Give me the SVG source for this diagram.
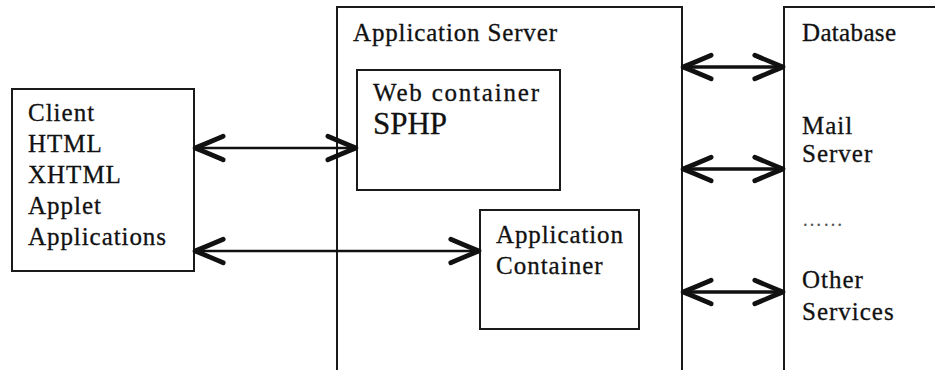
<svg xmlns="http://www.w3.org/2000/svg" width="935" height="370" viewBox="0 0 935 370">
  <style>
    .box { fill: #ffffff; stroke: #1a1a1a; stroke-width: 2; }
    .lbl { font-family: "Liberation Serif", "Times New Roman", serif; font-size: 25px; fill: #111; stroke: #111; stroke-width: 0.3; letter-spacing: 1px; }
    .big { font-size: 31px; letter-spacing: 0; }
    .dots { font-size: 20px; fill: #555; stroke: none; }
    .link { stroke: #111; fill: none; }
    .thin { stroke-width: 2.5; }
    .thick { stroke-width: 3.5; }
  </style>
  <defs>
    <marker id="head" markerUnits="userSpaceOnUse" markerWidth="40" markerHeight="40" viewBox="-30 -15 34 30" refX="0" refY="0" orient="auto-start-reverse" overflow="visible">
      <path d="M -24 -10 Q -10 -4 0 0 Q -10 4 -24 10" fill="none" stroke="#111" stroke-width="4" stroke-linecap="round" stroke-linejoin="round"/>
    </marker>
  </defs>
  <rect width="935" height="370" fill="#ffffff"/>

  <!-- client tier -->
  <g id="client">
    <rect class="box" x="12" y="89" width="182" height="182"/>
    <text class="lbl" x="28" y="121">Client</text>
    <text class="lbl" x="28" y="152">HTML</text>
    <text class="lbl" x="28" y="183">XHTML</text>
    <text class="lbl" x="28" y="214">Applet</text>
    <text class="lbl" x="28" y="245" textLength="139" lengthAdjust="spacing">Applications</text>
  </g>

  <!-- application server with its two containers -->
  <g id="app-server">
    <rect class="box" x="337" y="7" width="345" height="375"/>
    <text class="lbl" x="353" y="41" textLength="205" lengthAdjust="spacing">Application Server</text>
  </g>
  <g id="web-container">
    <rect class="box" x="357" y="70" width="203" height="120"/>
    <text class="lbl" x="373" y="101" textLength="167" lengthAdjust="spacing">Web container</text>
    <text class="lbl big" x="373" y="134" textLength="74" lengthAdjust="spacing">SPHP</text>
  </g>
  <g id="app-container">
    <rect class="box" x="480" y="210" width="159" height="119"/>
    <text class="lbl" x="496" y="243" textLength="128" lengthAdjust="spacing">Application</text>
    <text class="lbl" x="496" y="274">Container</text>
  </g>

  <!-- back-end services -->
  <g id="services">
    <rect class="box" x="784" y="7" width="160" height="375"/>
    <text class="lbl" x="802" y="41" textLength="95" lengthAdjust="spacing">Database</text>
    <text class="lbl" x="802" y="134">Mail</text>
    <text class="lbl" x="802" y="162">Server</text>
    <text class="lbl dots" x="802" y="226">……</text>
    <text class="lbl" x="802" y="288">Other</text>
    <text class="lbl" x="802" y="320">Services</text>
  </g>

  <!-- two-way connectors -->
  <g id="connectors">
    <path class="link thin" d="M 195 148 L 356 148" marker-start="url(#head)" marker-end="url(#head)"/>
    <path class="link thin" d="M 195 251 L 479 251" marker-start="url(#head)" marker-end="url(#head)"/>
    <path class="link thick" d="M 683 67 L 783 67" marker-start="url(#head)" marker-end="url(#head)"/>
    <path class="link thick" d="M 683 169 L 783 169" marker-start="url(#head)" marker-end="url(#head)"/>
    <path class="link thick" d="M 683 292 L 783 292" marker-start="url(#head)" marker-end="url(#head)"/>
  </g>
</svg>
